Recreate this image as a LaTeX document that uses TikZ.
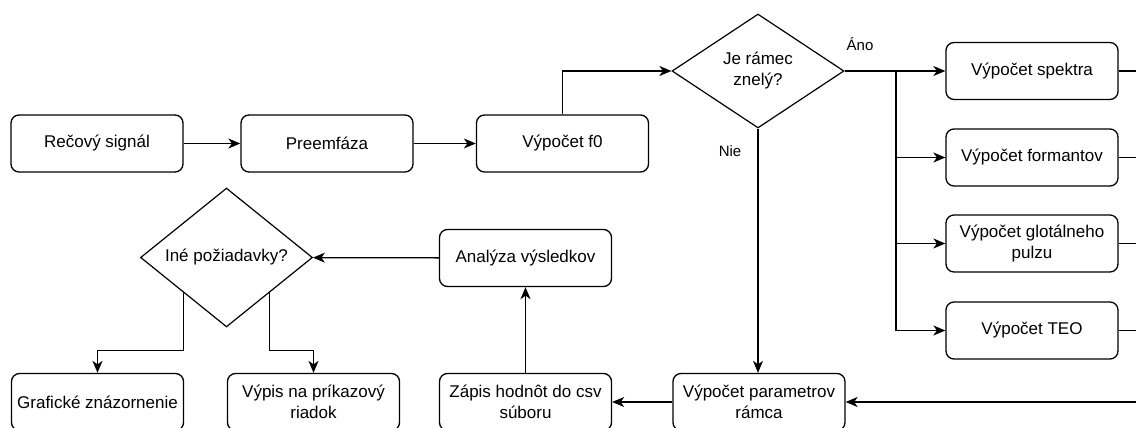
\documentclass[tikz,border=0pt]{standalone}
\usepackage{fontspec}
\setmainfont{Liberation Sans}
\usetikzlibrary{shapes.geometric,arrows.meta}
\begin{document}
\begin{tikzpicture}[x=1pt,y=-1pt,
     box/.style={draw,rounded corners=8pt,line width=1.3pt,minimum width=172pt,minimum height=57pt,align=center,font=\fontsize{17}{21}\selectfont},
     dec/.style={draw,diamond,line width=1.2pt,inner sep=0pt,minimum width=172pt,minimum height=114pt,align=center,font=\fontsize{17}{21}\selectfont},
     arr/.style={line width=1.3pt,-{Stealth[length=12pt,width=10pt,inset=3.5pt]}},
     lin/.style={line width=1.3pt}]
     \useasboundingbox (0,0) rectangle (1136,428);
     \clip (0,0) rectangle (1136,428);
     
     \node[box] (sig) at (97,143.5) {Rečový signál};
     \node[box] (pre) at (327,143.5) {Preemfáza};
     \node[box] (f0) at (562.5,143.5) {Výpočet f0};
     \node[dec] (znely) at (758,71) {Je rámec\\znelý?};
     
     \node[box] (spek) at (1032,71) {Výpočet spektra};
     \node[box] (form) at (1032,157.5) {Výpočet formantov};
     \node[box] (glot) at (1032,243.5) {Výpočet glotálneho\\pulzu};
     \node[box] (teo) at (1032,330.5) {Výpočet TEO};
     
     \node[box] (param) at (759,402) {Výpočet parametrov\\rámca};
     \node[box] (zapis) at (525.5,402) {Zápis hodnôt do csv\\súboru};
     \node[box] (anal) at (525.5,258) {Analýza výsledkov};
     \node[dec] (ine) at (226.5,257.5) {Iné požiadavky?};
     \node[box] (graf) at (97.5,402) {Grafické znázornenie};
     \node[box] (vypis) at (313.5,402) {Výpis na príkazový\\riadok};
     
     \draw[arr] (sig) -- (pre);
     \draw[arr] (pre) -- (f0);
     \draw[arr] (f0.north) |- (znely.west);
     
     % vetva Ano
     \coordinate (vet) at (896,71);
     \draw[arr] (znely.east) -- (spek.west);
     \draw[lin] (vet) -- (vet |- teo.west);
     \foreach \n in {form,glot,teo} \draw[arr] (vet |- \n.west) -- (\n.west);
     \node[font=\fontsize{15}{18}\selectfont] (ano) at (860,44) {Áno};
     
     % spat do vypoctu parametrov
     \coordinate (zber) at (1150,402);
     \foreach \n in {spek,form,glot,teo} \draw[lin] (\n.east) -- (zber |- \n.east);
     \draw[lin] (zber |- spek.east) -- (zber);
     \draw[arr] (zber) -- (param.east);
     
     % vetva Nie
     \draw[arr] (znely.south) -- (znely.south |- param.north);
     \node[font=\fontsize{15}{18}\selectfont] (nie) at (730,151) {Nie};
     
     \draw[arr] (param) -- (zapis);
     \draw[arr] (zapis) -- (anal);
     \draw[arr] (anal) -- (ine);
     \draw[arr] (ine.south west) -- ++(0,58) -| (graf.north);
     \draw[arr] (ine.south east) -- ++(0,58) -| (vypis.north);
\end{tikzpicture}
\end{document}
